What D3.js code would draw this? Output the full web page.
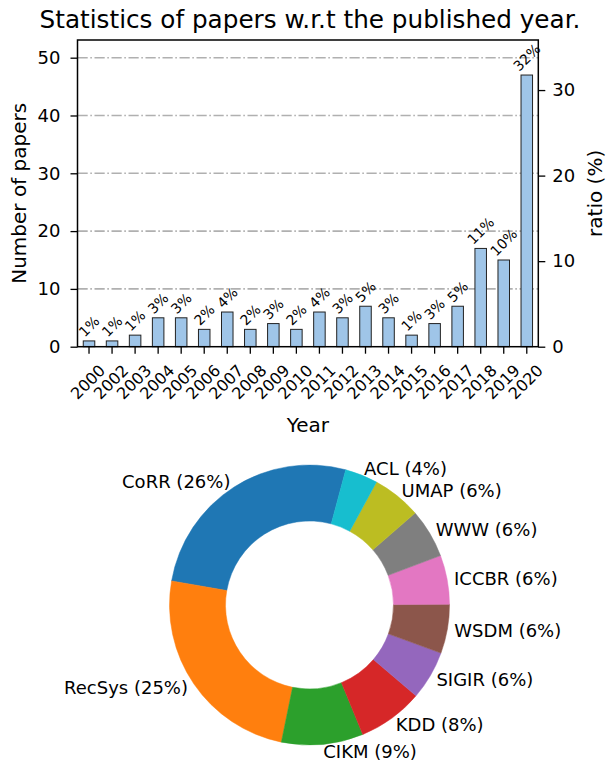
<!DOCTYPE html>
<html>
<head>
<meta charset="utf-8">
<script src="https://cdn.jsdelivr.net/npm/d3@7"></script>
<style>
  body { margin: 0; background: #fff; }
  svg { font-family: "DejaVu Sans", sans-serif; }
</style>
</head>
<body>
<svg id="chart" width="606" height="761"></svg>
<script>
// papers per year
var years = ["2000", "2002", "2003", "2004", "2005", "2006", "2007", "2008", "2009", "2010",
             "2011", "2012", "2013", "2014", "2015", "2016", "2017", "2018", "2019", "2020"];
var papers = [1, 1, 2, 5, 5, 3, 6, 3, 4, 3, 6, 5, 7, 5, 2, 4, 7, 17, 15, 47];
var leftTicks = [0, 10, 20, 30, 40, 50];
var rightTicks = [0, 10, 20, 30];

// papers per venue
var venues = ["CoRR", "RecSys", "CIKM", "KDD", "SIGIR", "WSDM", "ICCBR", "WWW", "UMAP", "ACL"];
var venueCounts = [14, 13, 5, 4, 3, 3, 3, 3, 3, 2];

var svg = d3.select("#chart");
var total = d3.sum(papers);

var plotLeft = 77.5, plotRight = 538.3, plotTop = 40, plotBottom = 346.7;
var yMax = 53.06;

var x = d3.scaleBand()
    .domain(years)
    .range([plotLeft, plotRight])
    .paddingInner(0.5)
    .paddingOuter(0.25);

var y = d3.scaleLinear().domain([0, yMax]).range([plotBottom, plotTop]);
var yRatio = d3.scaleLinear().domain([0, yMax * 100 / total]).range([plotBottom, plotTop]);

// grid lijnen (streep-punt)
svg.append("g")
    .selectAll("line")
    .data(leftTicks.filter(function(d) { return d > 0; }))
    .enter()
    .append("line")
    .attr("x1", plotLeft)
    .attr("x2", plotRight)
    .attr("y1", function(d) { return y(d); })
    .attr("y2", function(d) { return y(d); })
    .attr("stroke", "#b0b0b0")
    .attr("stroke-width", 1.6)
    .attr("stroke-dasharray", "10.2,2.6,1.6,2.6");

// staven
svg.append("g")
    .selectAll("rect")
    .data(papers)
    .enter()
    .append("rect")
    .attr("x", function(d, i) { return x(years[i]); })
    .attr("y", function(d) { return y(d); })
    .attr("width", x.bandwidth())
    .attr("height", function(d) { return plotBottom - y(d); })
    .attr("fill", "#9fc5e8")
    .attr("stroke", "#222")
    .attr("stroke-width", 1);

// percentage labels boven de staven
var pctSize = 14;
svg.append("g")
    .selectAll("text")
    .data(papers)
    .enter()
    .append("text")
    .attr("font-size", pctSize)
    .attr("text-anchor", "middle")
    .attr("dominant-baseline", "central")
    .text(function(d) { return Math.round(d / total * 100) + "%"; })
    .attr("transform", function(d, i) {
        var w = this.getComputedTextLength();
        var half = (w + 0.73 * pctSize) * 0.7071 / 2;
        var cx = x(years[i]) + x.bandwidth() / 2;
        var cy = y(d) - 3 - half;
        return "translate(" + cx + "," + cy + ") rotate(-45)";
    });

// assen
var axisLeft = d3.axisLeft(y).tickValues(leftTicks).tickSize(7).tickPadding(10);
var axisRight = d3.axisRight(yRatio).tickValues(rightTicks).tickSize(7).tickPadding(7);
var axisBottom = d3.axisBottom(x).tickSize(7).tickFormat("");

var gl = svg.append("g").attr("transform", "translate(" + plotLeft + ",0)").call(axisLeft);
var gr = svg.append("g").attr("transform", "translate(" + plotRight + ",0)").call(axisRight);
var gb = svg.append("g").attr("transform", "translate(0," + plotBottom + ")").call(axisBottom);

[gl, gr, gb].forEach(function(g) {
    g.select(".domain").remove();
    g.selectAll(".tick line").attr("stroke", "#000").attr("stroke-width", 1.3);
    g.selectAll(".tick text").attr("fill", "#000").attr("font-size", 18)
        .attr("font-family", "DejaVu Sans");
});

// jaartallen schuin
svg.append("g")
    .selectAll("text")
    .data(years)
    .enter()
    .append("text")
    .attr("font-size", 16)
    .attr("text-anchor", "middle")
    .attr("dominant-baseline", "central")
    .attr("transform", function(d) {
        return "translate(" + (x(d) + x.bandwidth() / 2 - 1) + ",382) rotate(-45)";
    })
    .text(function(d) { return d; });

// kader
svg.append("rect")
    .attr("x", plotLeft)
    .attr("y", plotTop)
    .attr("width", plotRight - plotLeft)
    .attr("height", plotBottom - plotTop)
    .attr("fill", "none")
    .attr("stroke", "#000")
    .attr("stroke-width", 1.5);

// titels
svg.append("text")
    .attr("x", 310)
    .attr("y", 28.3)
    .attr("text-anchor", "middle")
    .attr("font-size", 24.7)
    .text("Statistics of papers w.r.t the published year.");

svg.append("text")
    .attr("transform", "translate(26," + (plotTop + plotBottom) / 2 + ") rotate(-90)")
    .attr("text-anchor", "middle")
    .attr("font-size", 20)
    .text("Number of papers");

svg.append("text")
    .attr("transform", "translate(602," + (plotTop + plotBottom) / 2 + ") rotate(-90)")
    .attr("text-anchor", "middle")
    .attr("font-size", 20)
    .text("ratio (%)");

svg.append("text")
    .attr("x", (plotLeft + plotRight) / 2)
    .attr("y", 432)
    .attr("text-anchor", "middle")
    .attr("font-size", 20)
    .text("Year");

// donut
var cx = 309.5, cy = 605, R = 140;
var colors = d3.schemeCategory10;
var start = 75 * Math.PI / 180;
var pie = d3.pie()
    .sort(null)
    .startAngle(Math.PI / 2 - start)
    .endAngle(Math.PI / 2 - start - 2 * Math.PI);
var arcs = pie(venueCounts);
var venueTotal = d3.sum(venueCounts);

var arc = d3.arc().innerRadius(R * 0.6).outerRadius(R);

var donut = svg.append("g").attr("transform", "translate(" + cx + "," + cy + ")");

donut.selectAll("path")
    .data(arcs)
    .enter()
    .append("path")
    .attr("d", arc)
    .attr("fill", function(d, i) { return colors[i]; })
    .attr("stroke", function(d, i) { return colors[i]; })
    .attr("stroke-width", 0.5);

donut.selectAll("text")
    .data(arcs)
    .enter()
    .append("text")
    .attr("font-size", 18)
    .attr("dominant-baseline", "central")
    .each(function(d, i) {
        var a = (d.startAngle + d.endAngle) / 2;
        var lx = Math.sin(a) * R * 1.05;
        var ly = -Math.cos(a) * R * 1.05;
        d3.select(this)
            .attr("x", lx)
            .attr("y", ly)
            .attr("text-anchor", lx > 0 ? "start" : "end")
            .text(venues[i] + " (" + Math.round(venueCounts[i] / venueTotal * 100) + "%)");
    });
</script>
</body>
</html>
